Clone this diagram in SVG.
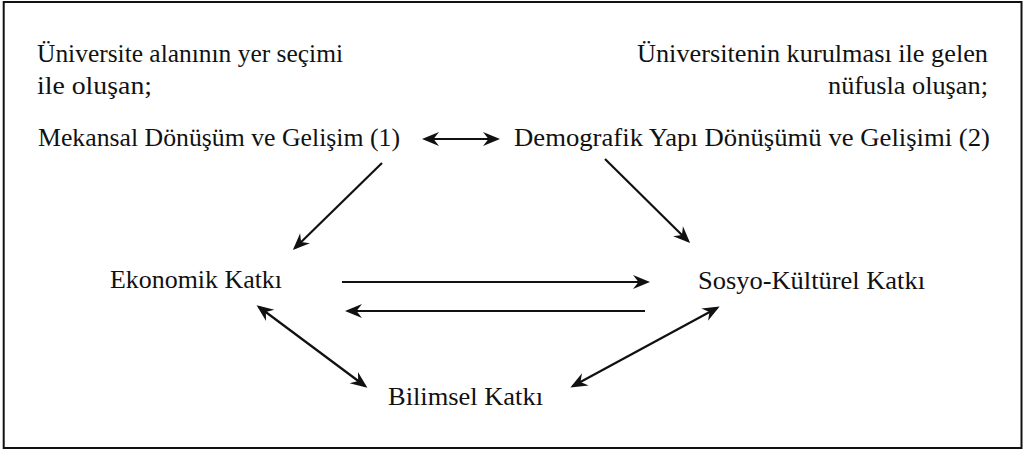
<svg xmlns="http://www.w3.org/2000/svg" width="1024" height="451" viewBox="0 0 1024 451">
<style>
text{font-family:"Liberation Serif","Times New Roman",serif;font-size:26px;fill:#111}
.c line{stroke:#111;stroke-width:2.2}
</style>
<defs>
<marker id="ah" markerUnits="userSpaceOnUse" markerWidth="24" markerHeight="16" viewBox="-16 -8 22 16" refX="0" refY="0" orient="auto-start-reverse" overflow="visible">
<path d="M3,0 L-14,-7 L-8.5,0 L-14,7 Z" fill="#111"/>
</marker>
</defs>
<rect x="3.7" y="2" width="1017.8" height="446" fill="#fff" stroke="#111" stroke-width="2"/>
<g id="note-left">
<text x="37" y="62" textLength="306" lengthAdjust="spacingAndGlyphs">Üniversite alanının yer seçimi</text>
<text x="37" y="94" textLength="115" lengthAdjust="spacingAndGlyphs">ile oluşan;</text>
</g>
<g id="note-right">
<text x="637" y="62" textLength="351" lengthAdjust="spacingAndGlyphs">Üniversitenin kurulması ile gelen</text>
<text x="828" y="94" textLength="160" lengthAdjust="spacingAndGlyphs">nüfusla oluşan;</text>
</g>
<g id="n1"><text x="38" y="146" textLength="362" lengthAdjust="spacingAndGlyphs">Mekansal Dönüşüm ve Gelişim (1)</text></g>
<g id="n2"><text x="514" y="146" textLength="476" lengthAdjust="spacingAndGlyphs">Demografik Yapı Dönüşümü ve Gelişimi (2)</text></g>
<g id="n3"><text x="110" y="288" textLength="172" lengthAdjust="spacingAndGlyphs">Ekonomik Katkı</text></g>
<g id="n4"><text x="698" y="289" textLength="227" lengthAdjust="spacingAndGlyphs">Sosyo-Kültürel Katkı</text></g>
<g id="n5"><text x="388" y="405" textLength="155" lengthAdjust="spacingAndGlyphs">Bilimsel Katkı</text></g>
<g class="c" id="connectors">
<line x1="425" y1="139" x2="497" y2="139" marker-start="url(#ah)" marker-end="url(#ah)"/>
<line x1="382" y1="163" x2="295" y2="248" marker-end="url(#ah)"/>
<line x1="605" y1="159" x2="688" y2="241" marker-end="url(#ah)"/>
<line x1="342" y1="282" x2="647" y2="282" marker-end="url(#ah)"/>
<line x1="645" y1="311" x2="348" y2="311" marker-end="url(#ah)"/>
<line x1="259" y1="307" x2="365" y2="386" marker-start="url(#ah)" marker-end="url(#ah)"/>
<line x1="573" y1="386" x2="717" y2="308" marker-start="url(#ah)" marker-end="url(#ah)"/>
</g>
</svg>
